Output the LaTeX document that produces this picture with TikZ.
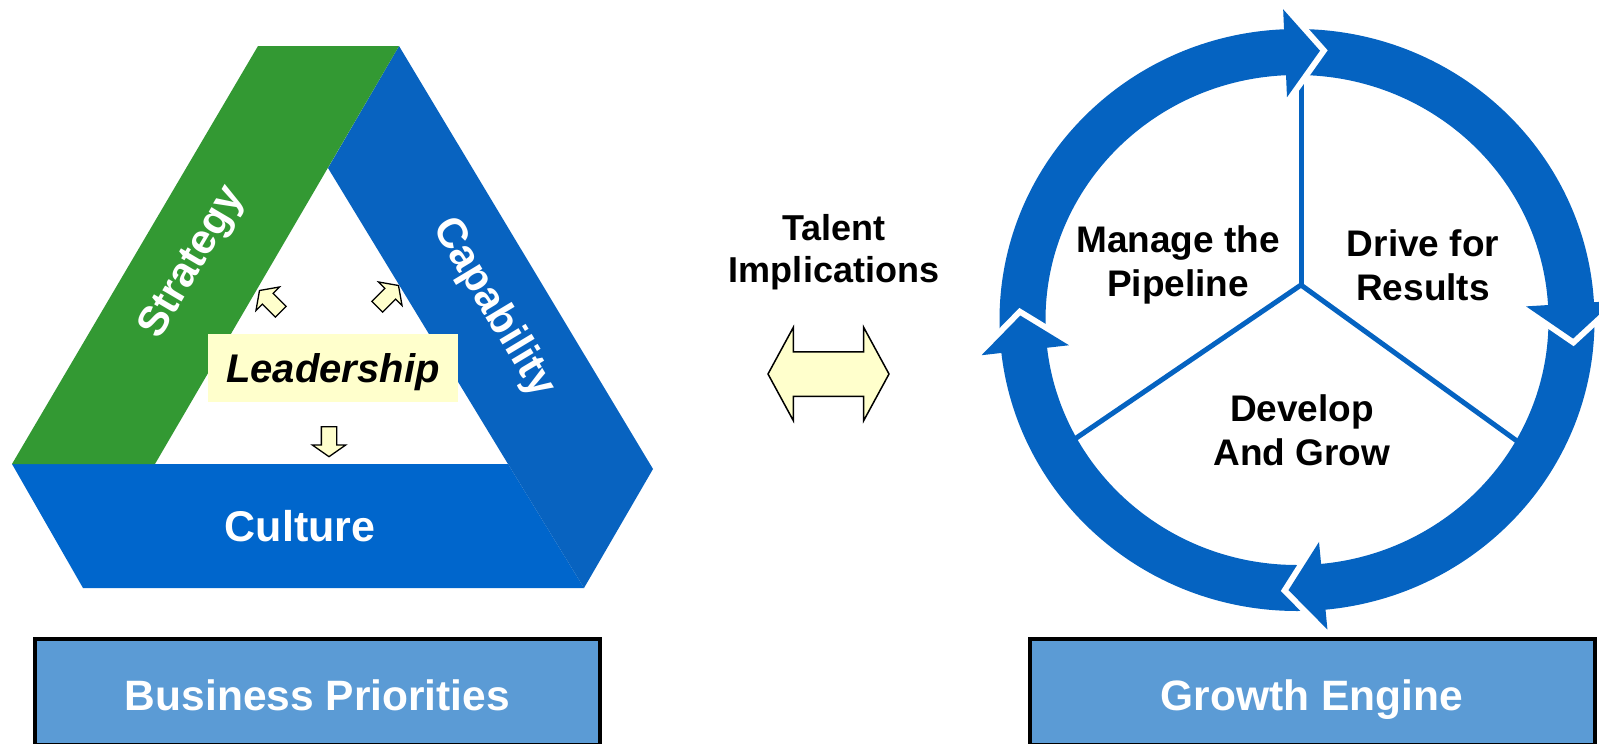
\documentclass[tikz,border=0pt]{standalone}
\usepackage{fontspec}
\setmainfont{Liberation Sans}
\usetikzlibrary{shapes.arrows,calc}
\definecolor{stratgreen}{RGB}{51,153,51}
\definecolor{capblue}{RGB}{8,99,192}
\definecolor{cultblue}{RGB}{0,102,204}
\definecolor{ringblue}{RGB}{5,99,193}
\definecolor{boxblue}{RGB}{91,155,213}
\definecolor{leadyellow}{RGB}{255,255,204}

\begin{document}
\begin{tikzpicture}[x=1pt, y=-1pt, line join=miter,
		every node/.style={inner sep=0pt, font=\bfseries},
		whitetext/.style={text=white, font=\fontsize{42}{48}\selectfont\bfseries},
		blacktext/.style={align=center, font=\fontsize{37}{44}\selectfont\bfseries},
		smallarrow/.style={single arrow, draw=black, fill=leadyellow, line width=1.3pt, minimum height=30pt, inner ysep=7pt, inner xsep=0pt, single arrow head extend=9pt, single arrow tip angle=110},
		labelbox/.style={draw=black, line width=4pt, fill=boxblue, minimum width=565pt, minimum height=106pt, text height=36pt, text depth=0pt, text=white, font=\fontsize{42.5}{48}\selectfont\bfseries},
		headgap/.style={white, line width=12pt}]
		\fill[white] (0,0) rectangle (1599,744);
		\useasboundingbox (0,0) rectangle (1599,744);
		
		% triangle
		\fill[cultblue] (12,464) -- (508,464) -- (584,588) -- (83,588) -- cycle;
		\fill[capblue] (399,46) -- (653,469) -- (584,588) -- (508,464) -- (328,168) -- cycle;
		\fill[stratgreen] (258,46) -- (399,46) -- (155,464) -- (12,464) -- cycle;
		\node[whitetext, rotate=59.5] (strategy) at (193,263) {Strategy};
		\node[whitetext, rotate=-59] (capability) at (493,308) {Capability};
		\node[whitetext, anchor=base, font=\fontsize{43}{48}\selectfont\bfseries] (culture) at (300,541) {Culture};
		
		\node[fill=leadyellow, minimum width=250pt, minimum height=68pt, text height=28pt, text depth=0pt, font=\fontsize{40}{44}\selectfont\bfseries\itshape] (lead) at (333,368) {Leadership};
		\node[smallarrow, rotate=135] (upleft) at (272,303) {};
		\node[smallarrow, rotate=45] (upright) at (386,298) {};
		\node[smallarrow, rotate=-90] (down) at (329,439) {};
		
		% middle
		\node[blacktext, font=\fontsize{36}{42}\selectfont\bfseries] (talent) at (834,251.7) {Talent\\Implications};
		\node[double arrow, draw=black, fill=leadyellow, line width=1.5pt, minimum height=121pt, inner ysep=21.5pt, inner xsep=0pt, double arrow head extend=24.5pt, double arrow tip angle=123] (link) at (828.5,374) {};
		
		% cycle
		\coordinate (hub) at (1297,320);
		\coordinate (join) at (1301,285);
		\coordinate (div1) at (1301,70);
		\coordinate (div2) at (1066,445);
		\coordinate (div3) at (1528,449);
		\draw[ringblue, line width=5pt] (join) -- (div1);
		\draw[ringblue, line width=5pt] (join) -- (div2);
		\draw[ringblue, line width=5pt] (join) -- (div3);
		\draw[ringblue, line width=46pt] (hub) ellipse[x radius=274.5pt, y radius=268pt];
		
		\coordinate (topout) at ($(hub)+(267.5:317.5 and 311)$);
		\coordinate (topin) at ($(hub)+(267.5:229.5 and 223)$);
		\coordinate (toptip) at ($(hub)+(267.5:274.5 and 268)+(357.5:35)$);
		\coordinate (rightout) at ($(hub)+(356.5:317.5 and 311)$);
		\coordinate (rightin) at ($(hub)+(356.5:229.5 and 223)$);
		\coordinate (righttip) at ($(hub)+(356.5:274.5 and 268)+(86.5:35)$);
		\coordinate (botout) at ($(hub)+(84.5:317.5 and 311)$);
		\coordinate (botin) at ($(hub)+(84.5:229.5 and 223)$);
		\coordinate (bottip) at ($(hub)+(84.5:274.5 and 268)+(174.5:35)$);
		\coordinate (leftout) at ($(hub)+(173.5:317.5 and 311)$);
		\coordinate (leftin) at ($(hub)+(173.5:229.5 and 223)$);
		\coordinate (lefttip) at ($(hub)+(173.5:274.5 and 268)+(263.5:35)$);
		
		\draw[headgap] (topout) -- (toptip) -- (topin);
		\fill[ringblue] (topout) -- (toptip) -- (topin) -- cycle;
		\draw[headgap] (rightout) -- (righttip) -- (rightin);
		\fill[ringblue] (rightout) -- (righttip) -- (rightin) -- cycle;
		\draw[headgap] (botout) -- (bottip) -- (botin);
		\fill[ringblue] (botout) -- (bottip) -- (botin) -- cycle;
		\draw[headgap] (leftout) -- (lefttip) -- (leftin);
		\fill[ringblue] (leftout) -- (lefttip) -- (leftin) -- cycle;
		
		\node[blacktext] (pipeline) at (1178,265) {Manage the\\Pipeline};
		\node[blacktext] (results) at (1423,265) {Drive for\\Results};
		\node[blacktext] (grow) at (1302,430.3) {Develop\\And Grow};
		
		% boxes
		\node[labelbox] (business) at (317.5,692) {Business Priorities};
		\node[labelbox] (growth) at (1312,692) {Growth Engine};
		
\end{tikzpicture}
\end{document}
